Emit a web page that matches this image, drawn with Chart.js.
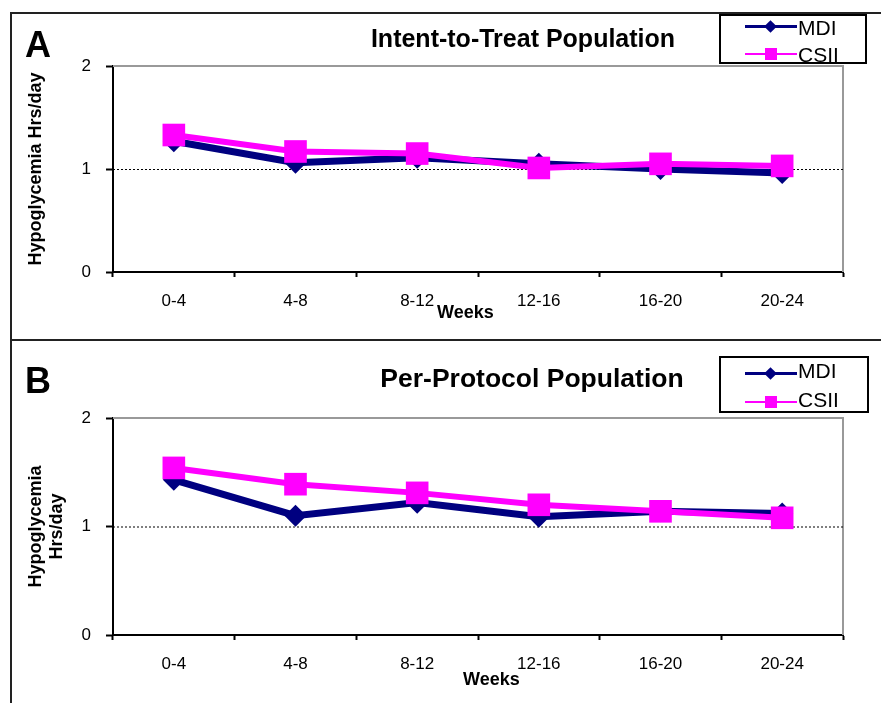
<!DOCTYPE html>
<html lang="en">
<head>
  <meta charset="UTF-8" />
  <title>Hypoglycemia Hrs/day – MDI vs CSII</title>
  <style>
    body {
      margin: 0;
      width: 881px;
      height: 703px;
      position: relative;
      overflow: hidden;
      background: white;
      font-family: "Liberation Sans", Arial, sans-serif;
      color: #000;
    }
    .frame { position: absolute; background: #222; }
    canvas { position: absolute; left: 0; }
    .txt { position: absolute; line-height: 1; white-space: nowrap; }
    .letter { font-size: 36px; font-weight: bold; left: 25px; }
    .title { font-size: 25px; font-weight: bold; width: 440px; text-align: center; }
    .weeks { font-size: 18px; font-weight: bold; }
    .legend { position: absolute; border: 2px solid #000; box-sizing: border-box; left: 719px; background: white; }
    .legend .txt { font-size: 21px; left: 77px; }
    .sym { position: absolute; left: 24px; width: 52px; }
    .sym .ln { position: absolute; left: 0; width: 52px; }
    .sym .mk { position: absolute; }
  </style>
</head>
<body>
  <div class="frame" style="left:10px; top:12px; width:2px; height:691px;"></div>
  <div class="frame" style="left:10px; top:12px; width:871px; height:2px;"></div>
  <div class="frame" style="left:10px; top:339px; width:871px; height:2px;"></div>

  <canvas id="chartA" width="881" height="340" style="top:0"></canvas>
  <canvas id="chartB" width="881" height="363" style="top:340px"></canvas>

  <div class="txt letter" style="top:27px">A</div>
  <div class="txt title" style="left:303px; top:26px">Intent-to-Treat Population</div>
  <div class="txt weeks" style="left:437px; top:303px">Weeks</div>

  <div class="txt letter" style="top:363px">B</div>
  <div class="txt title" style="left:312px; top:365px; font-size:26.5px">Per-Protocol Population</div>
  <div class="txt weeks" style="left:463px; top:670px">Weeks</div>

  <div class="legend" style="top:14px; width:148px; height:50px;">
    <div class="sym" style="top:9px">
      <div class="ln" style="top:0; height:3px; background:#000080"></div>
      <div class="mk" style="left:21px; top:-3px; width:9px; height:9px; background:#000080; transform:rotate(45deg)"></div>
    </div>
    <div class="txt" style="top:1px">MDI</div>
    <div class="sym" style="top:37px">
      <div class="ln" style="top:0; height:1.5px; background:#ff00ff"></div>
      <div class="mk" style="left:20px; top:-5px; width:12px; height:12px; background:#ff00ff"></div>
    </div>
    <div class="txt" style="top:28px">CSII</div>
  </div>

  <div class="legend" style="top:356px; width:150px; height:57px;">
    <div class="sym" style="top:14px">
      <div class="ln" style="top:0; height:3px; background:#000080"></div>
      <div class="mk" style="left:21px; top:-3px; width:9px; height:9px; background:#000080; transform:rotate(45deg)"></div>
    </div>
    <div class="txt" style="top:2px">MDI</div>
    <div class="sym" style="top:43px">
      <div class="ln" style="top:0; height:1.5px; background:#ff00ff"></div>
      <div class="mk" style="left:20px; top:-5px; width:12px; height:12px; background:#ff00ff"></div>
    </div>
    <div class="txt" style="top:31px">CSII</div>
  </div>

  <script src="https://cdn.jsdelivr.net/npm/chart.js"></script>
  <script>
    // data
    const weeks = ["0-4", "4-8", "8-12", "12-16", "16-20", "20-24"];
    const ittMDI = [1.27, 1.06, 1.11, 1.05, 1.00, 0.96];
    const ittCSII = [1.33, 1.17, 1.15, 1.01, 1.05, 1.03];
    const ppMDI = [1.43, 1.10, 1.22, 1.09, 1.14, 1.12];
    const ppCSII = [1.54, 1.39, 1.31, 1.20, 1.14, 1.08];
    const yTicks = [0, 1, 2];
    const refLine = 1;

    Chart.defaults.font.family = "'Liberation Sans', Arial, sans-serif";
    Chart.defaults.color = "#000";

    // grey frame on top/right of the plot area + dotted line at 1
    const plotDecor = {
      id: "plotDecor",
      beforeDatasetsDraw(chart) {
        const { ctx, chartArea: a, scales } = chart;
        ctx.save();
        ctx.strokeStyle = "#999";
        ctx.lineWidth = 2;
        ctx.beginPath();
        ctx.moveTo(a.left, a.top);
        ctx.lineTo(a.right, a.top);
        ctx.lineTo(a.right, a.bottom);
        ctx.stroke();
        const y = scales.y.getPixelForValue(refLine);
        ctx.strokeStyle = "#000";
        ctx.lineWidth = 1;
        ctx.setLineDash([2, 2]);
        ctx.beginPath();
        ctx.moveTo(a.left, y + 0.5);
        ctx.lineTo(a.right, y + 0.5);
        ctx.stroke();
        ctx.restore();
      }
    };

    function makeChart(id, mdi, csii, yTitle, padTop) {
      return new Chart(document.getElementById(id), {
        type: "line",
        data: {
          labels: weeks,
          datasets: [
            {
              label: "MDI",
              data: mdi,
              borderColor: "#000080",
              backgroundColor: "#000080",
              borderWidth: 7,
              pointStyle: "rectRot",
              pointRadius: 11,
              pointBorderWidth: 0,
              tension: 0,
              order: 2
            },
            {
              label: "CSII",
              data: csii,
              borderColor: "#ff00ff",
              backgroundColor: "#ff00ff",
              borderWidth: 6,
              pointStyle: "rect",
              pointRadius: 16,
              pointBorderWidth: 0,
              tension: 0,
              order: 1
            }
          ]
        },
        options: {
          responsive: false,
          animation: false,
          layout: { padding: { left: 13, right: 38, top: padTop, bottom: 28 } },
          plugins: { legend: { display: false }, tooltip: { enabled: false } },
          scales: {
            x: {
              offset: true,
              grid: { offset: true, drawOnChartArea: false, tickLength: 5, tickColor: "#000", tickWidth: 2 },
              border: { color: "#000", width: 2 },
              ticks: { font: { size: 17 }, padding: 14, maxRotation: 0 },
              afterFit(s) { s.height = 40; }
            },
            y: {
              min: 0,
              max: 2,
              afterBuildTicks(s) { s.ticks = yTicks.map(v => ({ value: v })); },
              grid: { drawOnChartArea: false, tickLength: 7, tickColor: "#000", tickWidth: 2 },
              border: { color: "#000", width: 2 },
              ticks: { font: { size: 17 }, padding: 15 },
              title: {
                display: true,
                text: yTitle,
                font: { size: 18, weight: "bold" },
                lineHeight: 1.1,
                padding: { top: 12, bottom: 0 }
              },
              afterFit(s) { s.width = 100; }
            }
          }
        },
        plugins: [plotDecor]
      });
    }

    makeChart("chartA", ittMDI, ittCSII, "Hypoglycemia Hrs/day", 66);
    makeChart("chartB", ppMDI, ppCSII, ["Hypoglycemia", "Hrs/day"], 78);
  </script>
</body>
</html>
